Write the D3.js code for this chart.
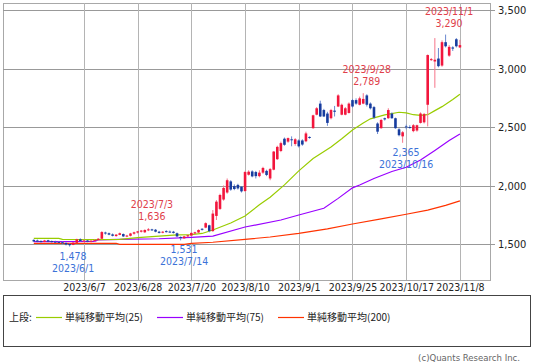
<!DOCTYPE html>
<html>
<head>
<meta charset="utf-8">
<script src="https://cdn.jsdelivr.net/npm/d3@7"></script>
<style>
body { margin:0; background:#fff; }
svg text { font-family:"DejaVu Sans Condensed","DejaVu Sans",sans-serif; }
.jp { font-family:"Noto Sans CJK JP",sans-serif; }
</style>
</head>
<body>
<div id="chart"></div>
<script>
const W = 537, H = 362
const PLOT = {LEFT:3, RIGHT:490, TOP:3, BOTTOM:280}

// trading days, 2023
const dates = [
"5/18","5/19","5/22","5/23","5/24","5/25","5/26","5/29","5/30","5/31",
"6/1","6/2","6/5","6/6","6/7","6/8","6/9","6/12","6/13","6/14",
"6/15","6/16","6/19","6/20","6/21","6/22","6/23","6/26","6/27","6/28",
"6/29","6/30","7/3","7/4","7/5","7/6","7/7","7/10","7/11","7/12",
"7/13","7/14","7/18","7/19","7/20","7/21","7/24","7/25","7/26","7/27",
"7/28","7/31","8/1","8/2","8/3","8/4","8/7","8/8","8/9","8/10",
"8/14","8/15","8/16","8/17","8/18","8/21","8/22","8/23","8/24","8/25",
"8/28","8/29","8/30","8/31","9/1","9/4","9/5","9/6","9/7","9/8",
"9/11","9/12","9/13","9/14","9/15","9/19","9/20","9/21","9/22","9/25",
"9/26","9/27","9/28","9/29","10/2","10/3","10/4","10/5","10/6","10/10",
"10/11","10/12","10/13","10/16","10/17","10/18","10/19","10/20","10/23","10/24",
"10/25","10/26","10/27","10/30","10/31","11/1","11/2","11/6","11/7","11/8"
]

const opens = [
1535,1530,1525,1518,1532,1525,1520,1518,1515,1508,
1500,1492,1510,1540,1525,1530,1520,1528,1535,1545,
1598,1592,1582,1568,1578,1585,1565,1570,1588,1598,
1605,1600,1618,1625,1622,1605,1598,1610,1606,1605,
1592,1560,1548,1565,1572,1590,1598,1630,1640,1660,
1610,1740,1800,1880,1940,2035,1995,2005,1990,1953,
2092,2120,2115,2080,2110,2125,2060,2135,2225,2295,
2400,2375,2395,2355,2385,2385,2378,2415,2490,2605,
2700,2645,2615,2575,2640,2675,2605,2605,2620,2730,
2730,2690,2700,2770,2700,2670,2530,2490,2575,2575,
2615,2575,2480,2420,2505,2500,2465,2470,2535,2540,
2690,3075,3060,3085,3025,3225,3110,3180,3250,3180
]
const highs = [
1540,1538,1532,1535,1536,1530,1528,1526,1522,1515,
1505,1515,1545,1548,1538,1535,1532,1540,1550,1610,
1605,1598,1590,1585,1598,1590,1578,1595,1605,1612,
1620,1625,1636,1630,1628,1612,1610,1618,1615,1612,
1598,1565,1570,1580,1600,1605,1625,1635,1685,1665,
1790,1875,1930,2000,2060,2045,2010,2015,1995,2125,
2130,2130,2125,2130,2160,2135,2150,2295,2340,2375,
2410,2410,2420,2405,2395,2395,2460,2420,2605,2670,
2725,2655,2630,2655,2680,2780,2700,2670,2710,2740,
2745,2760,2789,2780,2710,2680,2540,2570,2580,2660,
2625,2580,2490,2465,2520,2515,2525,2520,2625,2620,
3120,3090,3260,3175,3240,3290,3200,3190,3260,3245
]
const lows = [
1518,1515,1512,1515,1515,1512,1510,1508,1500,1488,
1478,1490,1508,1520,1515,1515,1512,1520,1528,1540,
1580,1575,1565,1562,1575,1560,1558,1565,1580,1590,
1598,1595,1610,1612,1600,1590,1592,1598,1598,1590,
1560,1531,1545,1558,1570,1585,1595,1615,1635,1600,
1605,1705,1791,1870,1930,1955,1960,1965,1940,1945,
2085,2070,2060,2070,2100,2080,2045,2130,2218,2285,
2340,2365,2335,2340,2325,2340,2370,2400,2485,2600,
2585,2585,2510,2565,2590,2670,2600,2600,2615,2665,
2690,2685,2695,2675,2650,2570,2440,2485,2555,2570,
2570,2485,2420,2365,2480,2485,2455,2460,2530,2530,
2505,3065,2835,3010,3015,3180,3100,3150,3180,3175
]
const closes = [
1522,1520,1518,1530,1520,1516,1514,1512,1505,1495,
1490,1512,1540,1525,1530,1520,1528,1535,1545,1602,
1590,1580,1570,1580,1592,1565,1572,1590,1600,1608,
1615,1620,1625,1620,1605,1595,1605,1602,1604,1595,
1565,1550,1565,1575,1595,1600,1620,1626,1678,1610,
1760,1862,1919,1979,2045,1965,1970,1975,1950,2115,
2118,2078,2080,2110,2150,2090,2140,2290,2330,2362,
2348,2405,2390,2395,2335,2350,2445,2408,2600,2660,
2590,2590,2535,2645,2630,2770,2690,2660,2700,2675,
2700,2745,2740,2690,2660,2580,2460,2560,2565,2645,
2575,2490,2430,2455,2500,2495,2515,2515,2615,2610,
3115,3080,3075,3020,3225,3190,3185,3170,3190,3200
]

// moving averages [date, value]
const ma25 = [["5/18",1548],["5/29",1548],["5/30",1540],["6/12",1537],["6/21",1540],["6/28",1555],
["7/6",1568],["7/13",1578],["7/20",1580],["7/25",1590],["7/28",1620],["8/4",1680],["8/10",1740],
["8/17",1835],["8/22",1900],["8/28",2005],["9/1",2125],["9/7",2230],["9/14",2329],["9/20",2400],
["9/25",2475],["9/28",2535],["10/2",2570],["10/6",2603],["10/13",2626],["10/17",2620],["10/19",2605],
["10/23",2600],["10/25",2605],["10/27",2640],["10/31",2674],["11/6",2735],["11/8",2780]]
const ma75 = [["5/18",1520],["6/12",1522],["6/13",1535],["6/21",1540],["7/6",1545],["7/20",1557],
["7/28",1568],["8/10",1645],["8/25",1705],["9/1",1748],["9/12",1805],["9/19",1890],
["9/25",1980],["9/27",2004],["10/3",2060],["10/11",2120],["10/17",2156],["10/23",2218],
["10/27",2300],["11/2",2385],["11/8",2440]]
const ma200 = [["5/18",1506],["6/20",1506],["6/21",1497],["7/18",1497],["7/20",1505],["7/28",1515],
["8/10",1540],["8/22",1560],["9/1",1591],["9/13",1630],["9/25",1671],["10/5",1715],["10/17",1754],
["10/25",1790],["11/1",1830],["11/8",1868]]

const highMarks = [["7/3",1636],["9/28",2789],["11/1",3290]]
const lowMarks = [["6/1",1478],["7/14",1531],["10/16",2365]]

const xTicks = ["6/7","6/28","7/20","8/10","9/1","9/25","10/17","11/8"]
const yTicks = [1500,2000,2500,3000,3500]
const legendItems = [["単純移動平均(25)","#99cc00"],["単純移動平均(75)","#9900ff"],["単純移動平均(200)","#ff3300"]]

const idx = d => dates.indexOf(d)

const svg = d3.select('#chart').append('svg')
.attr('width',W).attr('height',H)

const x = d3.scaleLinear().domain([-8.6,127.4]).range([PLOT.LEFT,PLOT.RIGHT])
const y = d3.scaleLinear().domain([1500,3500]).range([244,10])

// plot frame
svg.append('rect')
.attr('x',PLOT.LEFT+0.5).attr('y',PLOT.TOP+0.5)
.attr('width',PLOT.RIGHT-PLOT.LEFT).attr('height',PLOT.BOTTOM-PLOT.TOP)
.attr('fill','none').attr('stroke','#a8a8a8')

// horizontal grid + y labels
const yAxis = svg.append('g')
.attr('transform',`translate(${PLOT.LEFT},0)`)
.call(d3.axisRight(y).tickValues(yTicks).tickSize(PLOT.RIGHT-PLOT.LEFT+5)
  .tickPadding(3).tickFormat(d3.format(',')))
yAxis.select('.domain').remove()
yAxis.selectAll('line').attr('stroke','#999').attr('shape-rendering','crispEdges')
yAxis.selectAll('text').attr('fill','#222').attr('font-size','11px')

// vertical grid + x labels
const xAxis = svg.append('g')
.attr('transform',`translate(0,${PLOT.BOTTOM})`)
.call(d3.axisBottom(x).tickValues(xTicks.map(idx)).tickSize(-(PLOT.BOTTOM-PLOT.TOP))
  .tickPadding(4).tickFormat(i => '2023/'+dates[i]))
xAxis.select('.domain').remove()
xAxis.selectAll('line').attr('stroke','#b4b4b4').attr('shape-rendering','crispEdges')
xAxis.selectAll('text').attr('fill','#222').attr('font-size','10.5px')

// moving averages
const line = d3.line().x(d => x(idx(d[0]))).y(d => y(d[1]))
;[[ma200,'#ff3300'],[ma75,'#9900ff'],[ma25,'#99cc00']].forEach(([data,color]) => {
  svg.append('path').datum(data)
  .attr('d',line).attr('fill','none').attr('stroke',color).attr('stroke-width',1.2)
})

// candles
const candles = svg.append('g').selectAll('g').data(dates).enter().append('g')
const up = i => closes[i] >= opens[i]
candles.append('line')
.attr('x1',(d,i)=>x(i)).attr('x2',(d,i)=>x(i))
.attr('y1',(d,i)=>y(highs[i])).attr('y2',(d,i)=>y(lows[i]))
.attr('stroke',(d,i)=> up(i) ? '#f6748a' : '#6a88d0').attr('stroke-width',1)
candles.append('rect')
.attr('x',(d,i)=>x(i)-1.3).attr('width',2.6)
.attr('y',(d,i)=>y(Math.max(opens[i],closes[i])))
.attr('height',(d,i)=>Math.max(1,Math.abs(y(opens[i])-y(closes[i]))))
.attr('fill',(d,i)=> up(i) ? '#f2163c' : '#173c9e')

// high / low marks
const fmt = d3.format(',')
highMarks.forEach(([d,v]) => {
  const g = svg.append('g').attr('fill','#e0404a').attr('font-size','10.5px').attr('text-anchor','middle')
  g.append('text').attr('x',x(idx(d))+3.5).attr('y',y(v)-20).text('2023/'+d)
  g.append('text').attr('x',x(idx(d))+3.5).attr('y',y(v)-8).text(fmt(v))
})
lowMarks.forEach(([d,v]) => {
  const g = svg.append('g').attr('fill','#3c72d8').attr('font-size','10.5px').attr('text-anchor','middle')
  g.append('text').attr('x',x(idx(d))+3.5).attr('y',y(v)+13).text(fmt(v))
  g.append('text').attr('x',x(idx(d))+3.5).attr('y',y(v)+25).text('2023/'+d)
})

// legend
svg.append('rect')
.attr('x',3.5).attr('y',295.5).attr('width',527).attr('height',51)
.attr('fill','none').attr('stroke','#444')
svg.append('text').attr('class','jp').attr('x',9).attr('y',320.5)
.attr('font-size','10px').attr('fill','#222').text('上段:')
const legendX = [36,157,278]
legendItems.forEach(([label,color],i) => {
  svg.append('line').attr('x1',legendX[i]).attr('x2',legendX[i]+26)
  .attr('y1',317.5).attr('y2',317.5).attr('stroke',color).attr('stroke-width',1.2)
  svg.append('text').attr('class','jp').attr('x',legendX[i]+29).attr('y',320.5)
  .attr('font-size','10px').attr('fill','#222').text(label)
})

svg.append('text').attr('x',520).attr('y',361).attr('text-anchor','end')
.attr('font-size','9.5px').attr('fill','#666').text('(c)Quants Research Inc.')
</script>
</body>
</html>
